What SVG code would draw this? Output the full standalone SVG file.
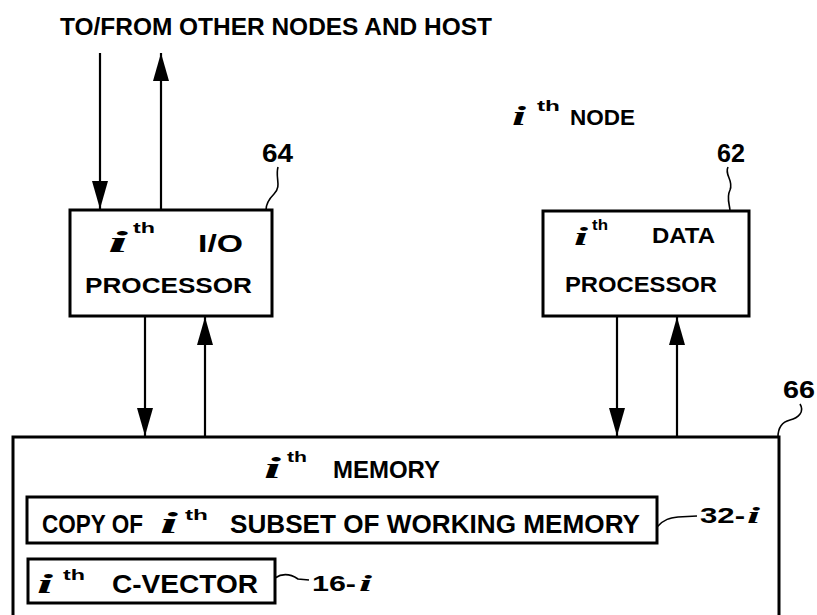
<svg xmlns="http://www.w3.org/2000/svg" width="817" height="615" viewBox="0 0 817 615">
<defs>
<marker id="ah" markerUnits="userSpaceOnUse" markerWidth="28" markerHeight="18" viewBox="0 0 28 18" refX="28" refY="9" orient="auto">
<path d="M28,9 L0,1 L0,17 Z" fill="#000"/>
</marker>
<style>
.box{fill:#fff;stroke:#000;stroke-width:3}
.ln{fill:none;stroke:#000;stroke-width:2.2}
.ld{fill:none;stroke:#000;stroke-width:1.6}
.t{font-family:"Liberation Sans",Arial,sans-serif;font-weight:bold;fill:#000}
.i{font-family:"Liberation Serif","Times New Roman",serif;font-style:italic;font-weight:bold;fill:#000}
.sup{font-family:"Liberation Sans",Arial,sans-serif;font-weight:bold;fill:#000;font-size:15px}
</style>
</defs>
<rect width="817" height="615" fill="#fff"/>

<text class="t" x="60" y="35" font-size="24" textLength="432" lengthAdjust="spacingAndGlyphs">TO/FROM OTHER NODES AND HOST</text>

<g id="node-label">
<text class="i" x="512" y="125" font-size="28" textLength="14" lengthAdjust="spacingAndGlyphs">i</text>
<text class="sup" x="537" y="111" textLength="23" lengthAdjust="spacingAndGlyphs">th</text>
<text class="t" x="570" y="125" font-size="22" textLength="65" lengthAdjust="spacingAndGlyphs">NODE</text>
</g>

<g id="io-processor">
<rect class="box" x="70" y="210" width="202" height="106"/>
<text class="i" x="108" y="252" font-size="30" textLength="20" lengthAdjust="spacingAndGlyphs">i</text>
<text class="sup" x="133" y="233" textLength="22" lengthAdjust="spacingAndGlyphs">th</text>
<text class="t" x="198" y="252" font-size="23" textLength="45" lengthAdjust="spacingAndGlyphs">I/O</text>
<text class="t" x="85" y="293" font-size="22" textLength="167" lengthAdjust="spacingAndGlyphs">PROCESSOR</text>
<text class="t" x="262" y="162" font-size="26" textLength="31" lengthAdjust="spacingAndGlyphs">64</text>
<path class="ld" d="M278,167 C275,178 282,186 274,194 C268,200 266,204 266,210"/>
</g>

<g id="data-processor">
<rect class="box" x="543" y="211" width="206" height="105"/>
<text class="i" x="574" y="245" font-size="26" textLength="14" lengthAdjust="spacingAndGlyphs">i</text>
<text class="sup" x="592" y="230" textLength="16" lengthAdjust="spacingAndGlyphs">th</text>
<text class="t" x="652" y="243" font-size="22" textLength="63" lengthAdjust="spacingAndGlyphs">DATA</text>
<text class="t" x="565" y="292" font-size="22" textLength="152" lengthAdjust="spacingAndGlyphs">PROCESSOR</text>
<text class="t" x="717" y="162" font-size="26" textLength="28" lengthAdjust="spacingAndGlyphs">62</text>
<path class="ld" d="M728,167 C724,175 734,180 730,190 C726,198 730,205 730,211"/>
</g>

<g id="memory">
<path class="box" d="M13,616 L13,437 L779,437 L779,616" fill="none"/>
<text class="i" x="264" y="478" font-size="30" textLength="17" lengthAdjust="spacingAndGlyphs">i</text>
<text class="sup" x="287" y="462" textLength="20" lengthAdjust="spacingAndGlyphs">th</text>
<text class="t" x="333" y="478" font-size="24" textLength="107" lengthAdjust="spacingAndGlyphs">MEMORY</text>
<text class="t" x="783" y="398" font-size="24" textLength="32" lengthAdjust="spacingAndGlyphs">66</text>
<path class="ld" d="M800,404 C805,412 798,418 790,420 C782,422 778,428 778,437"/>
</g>

<g id="working-memory-subset">
<rect class="box" x="27" y="497" width="630" height="46"/>
<text class="t" x="42" y="533" font-size="26" textLength="101" lengthAdjust="spacingAndGlyphs">COPY OF</text>
<text class="i" x="160" y="533" font-size="30" textLength="18" lengthAdjust="spacingAndGlyphs">i</text>
<text class="sup" x="185" y="520" textLength="23" lengthAdjust="spacingAndGlyphs">th</text>
<text class="t" x="230" y="533" font-size="26" textLength="410" lengthAdjust="spacingAndGlyphs">SUBSET OF WORKING MEMORY</text>
<path class="ld" d="M657,527 C664,519 670,518 678,517 L697,516"/>
<text class="t" x="700" y="523" font-size="22" textLength="45" lengthAdjust="spacingAndGlyphs">32-</text>
<text class="i" x="747" y="523" font-size="24" textLength="13" lengthAdjust="spacingAndGlyphs">i</text>
</g>

<g id="c-vector">
<rect class="box" x="28" y="559" width="247" height="44"/>
<text class="i" x="37" y="593" font-size="28" textLength="16" lengthAdjust="spacingAndGlyphs">i</text>
<text class="sup" x="63" y="580" textLength="22" lengthAdjust="spacingAndGlyphs">th</text>
<text class="t" x="112" y="593" font-size="25" textLength="146" lengthAdjust="spacingAndGlyphs">C-VECTOR</text>
<path class="ld" d="M275,578 C284,572 292,575 298,579 L309,580"/>
<text class="t" x="312" y="591" font-size="22" textLength="44" lengthAdjust="spacingAndGlyphs">16-</text>
<text class="i" x="359" y="591" font-size="24" textLength="13" lengthAdjust="spacingAndGlyphs">i</text>
</g>

<g id="connectors">
<line class="ln" x1="100" y1="53" x2="100" y2="209" marker-end="url(#ah)"/>
<line class="ln" x1="161" y1="209" x2="161" y2="53" marker-end="url(#ah)"/>
<line class="ln" x1="145" y1="317" x2="145" y2="436" marker-end="url(#ah)"/>
<line class="ln" x1="205" y1="436" x2="205" y2="317" marker-end="url(#ah)"/>
<line class="ln" x1="617" y1="317" x2="617" y2="436" marker-end="url(#ah)"/>
<line class="ln" x1="677" y1="436" x2="677" y2="317" marker-end="url(#ah)"/>
</g>
</svg>
